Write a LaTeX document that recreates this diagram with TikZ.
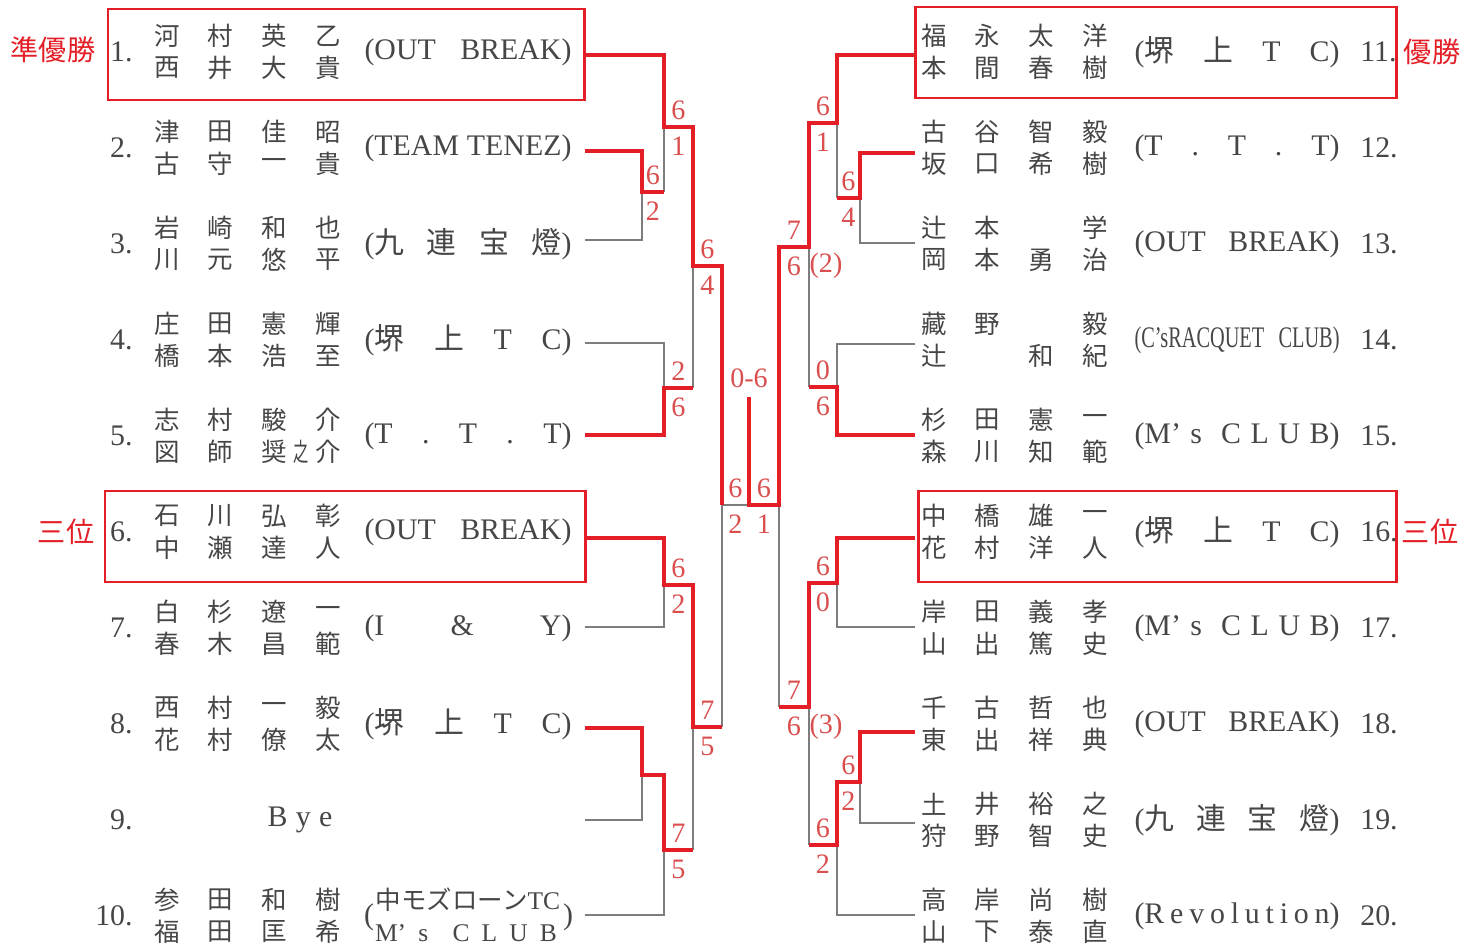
\documentclass[tikz,border=0pt]{standalone}
\usepackage{fontspec}
\usepackage{graphicx}
\setmainfont{Liberation Serif}
\newfontfamily\cjk{Noto Sans CJK JP}
\usetikzlibrary{positioning,calc}

\definecolor{winred}{RGB}{228,30,38}
\definecolor{losegray}{RGB}{125,125,125}
\definecolor{scorered}{RGB}{218,78,78}
\definecolor{textgray}{RGB}{70,70,70}
\newlength\px \setlength\px{0.02cm}
\newcommand\jp[1]{{\cjk #1}}

\tikzset{
  win/.style={draw=winred,line width=2.3pt},
  lose/.style={draw=losegray,line width=0.8pt},
  winbox/.style={draw=winred,line width=1.7pt},
  nm/.style={font=\cjk\fontsize{14.5}{15}\selectfont,text=textgray,inner sep=0pt},
  num/.style={font=\fontsize{17}{18}\selectfont,text=textgray,inner sep=0pt},
  tm/.style={font=\fontsize{17}{18}\selectfont,text=textgray,inner sep=0pt},
  tmsmall/.style={font=\fontsize{14.5}{15}\selectfont,text=textgray,inner sep=0pt},
  score/.style={font=\fontsize{16}{17}\selectfont,text=scorered,inner sep=0pt},
  award/.style={font=\cjk\fontsize{16}{17}\selectfont,text=winred,inner sep=0pt},
}

\newcommand\entryL[5]{%
  \node[num,anchor=east] (no#1) at (133,#2) {#1.};
  \foreach \c [count=\i] in {#3} \node[nm] (t#1-\i) at ({113.3+53.7*\i},{#2-16}) {\c};
  \foreach \c [count=\i] in {#4} \node[nm] (b#1-\i) at ({113.3+53.7*\i},{#2+16}) {\c};
  \node[tm] (tm#1) at (468,#2) {\makebox[207\px][s]{#5}};}
\newcommand\entryR[5]{%
  \node[num,anchor=west] (no#1) at (1360,#2) {#1.};
  \foreach \c [count=\i] in {#3} \node[nm] (t#1-\i) at ({880.3+53.7*\i},{#2-16}) {\c};
  \foreach \c [count=\i] in {#4} \node[nm] (b#1-\i) at ({880.3+53.7*\i},{#2+16}) {\c};
  \node[tm] (tm#1) at (1237,#2) {\makebox[205\px][s]{#5}};}
\newcommand\scores[3]{%
  \node[score] (#1t) at ($(#1s)!.5!(#1)+(0,-17)$) {#2};
  \node[score] (#1b) at ($(#1s)!.5!(#1)+(0,19)$) {#3};}

\begin{document}
\begin{tikzpicture}[x=0.02cm,y=-0.02cm]
\useasboundingbox (0,0) rectangle (1480,949);

% left entries
\entryL{1}{52}{河,村,英,乙}{西,井,大,貴}{(OUT\hfill BREAK)}
\entryL{2}{148}{津,田,佳,昭}{古,守,一,貴}{(TEAM\hfill TENEZ)}
\entryL{3}{244}{岩,崎,和,也}{川,元,悠,平}{(\jp{九}\hfill\jp{連}\hfill\jp{宝}\hfill\jp{燈})}
\entryL{4}{340}{庄,田,憲,輝}{橋,本,浩,至}{(\jp{堺}\hfill\jp{上}\hfill T\hfill C)}
\entryL{5}{436}{志,村,駿,介}{図,師,奨,介}{(T\hfill .\hfill T\hfill .\hfill T)}
\node[nm] (b5-x) at (301,452) {\scalebox{.6}[1]{之}};
\entryL{6}{532}{石,川,弘,彰}{中,瀬,達,人}{(OUT\hfill BREAK)}
\entryL{7}{628}{白,杉,遼,一}{春,木,昌,範}{(I\hfill\&\hfill Y)}
\entryL{8}{724}{西,村,一,毅}{花,村,僚,太}{(\jp{堺}\hfill\jp{上}\hfill T\hfill C)}
\node[num,anchor=east] (no9) at (133,820) {9.};
\node[tm] (bye) at (300,820) {\makebox[65\px][s]{B\hfill y\hfill e}};
\node[num,anchor=east] (no10) at (133,916) {10.};
\foreach \c [count=\i] in {参,田,和,樹} \node[nm] (t10-\i) at ({113.3+53.7*\i},900) {\c};
\foreach \c [count=\i] in {福,田,匡,希} \node[nm] (b10-\i) at ({113.3+53.7*\i},932) {\c};
\node[tmsmall] (tm10a) at (468,900) {\jp{中モズローン}TC};
\node[tmsmall] (tm10b) at (466,933) {\makebox[182\px][s]{M’\hfill s\hfill\hfill C\hfill L\hfill U\hfill B}};
\node[tm] (tm10l) at (369,917) {(};
\node[tm] (tm10r) at (568,917) {)};

% right entries
\entryR{11}{52}{福,永,太,洋}{本,間,春,樹}{(\jp{堺}\hfill\jp{上}\hfill T\hfill C)}
\entryR{12}{148}{古,谷,智,毅}{坂,口,希,樹}{(T\hfill .\hfill T\hfill .\hfill T)}
\entryR{13}{244}{辻,本,{},学}{岡,本,勇,治}{(OUT\hfill BREAK)}
\entryR{14}{340}{藏,野,{},毅}{辻,{},和,紀}{\scalebox{.68}[1]{(C’sRACQUET}\hfill\scalebox{.68}[1]{CLUB)}}
\entryR{15}{436}{杉,田,憲,一}{森,川,知,範}{(M’\hfill s\hfill\hfill C\hfill L\hfill U\hfill B)}
\entryR{16}{532}{中,橋,雄,一}{花,村,洋,人}{(\jp{堺}\hfill\jp{上}\hfill T\hfill C)}
\entryR{17}{628}{岸,田,義,孝}{山,出,篤,史}{(M’\hfill s\hfill\hfill C\hfill L\hfill U\hfill B)}
\entryR{18}{724}{千,古,哲,也}{東,出,祥,典}{(OUT\hfill BREAK)}
\entryR{19}{820}{土,井,裕,之}{狩,野,智,史}{(\jp{九}\hfill\jp{連}\hfill\jp{宝}\hfill\jp{燈})}
\entryR{20}{916}{高,岸,尚,樹}{山,下,泰,直}{(R\hfill e\hfill v\hfill o\hfill l\hfill u\hfill t\hfill i\hfill o\hfill n)}

% boxes and awards
\draw[winbox] (108,9) rectangle (584,100);
\draw[winbox] (105,491) rectangle (585,582);
\draw[winbox] (915,7) rectangle (1396,98);
\draw[winbox] (918,491) rectangle (1396,582);
\node[award] (jun) at (53,50) {準優勝};
\node[award] (sanL) at (66,532) {三位};
\node[award] (yu) at (1432,52) {優勝};
\node[award] (sanR) at (1430,532) {三位};

% bracket points
\foreach \n/\x/\y in {L1/585/55,L2/585/151,L3/585/240,L4/585/343,L5/585/435,
    L6/585/538,L7/585/627,L8/585/728,L9/585/820,L10/585/915,
    R11/915/55,R12/915/153,R13/915/243,R14/915/344,R15/915/435,
    R16/915/538,R17/915/627,R18/915/732,R19/915/823,R20/915/915,
    m23s/642/192,m23/664/192,m1s/664/127,m1/693/127,m45s/664/388,m45/693/388,
    mAs/693/266,mA/722/266,m67s/664/585,m67/693/585,m89s/642/775,m89/664/775,
    m810s/664/850,m810/693/850,mBs/693/727,mB/722/727,sLs/722/505,sL/749/505,
    n1213s/860/198,n1213/837/198,n11s/837/123,n11/809/123,n1415s/837/387,n1415/809/387,
    nAs/809/247,nA/779/247,n1617s/837/583,n1617/809/583,n1819s/860/782,n1819/837/782,
    n1820s/837/845,n1820/809/845,nBs/809/707,nB/779/707,sRs/779/505,sR/749/505,F/749/397}
  \coordinate (\n) at (\x,\y);

\draw[lose] (L3) -| (m23s);
\draw[lose] (m23) |- (m1s);
\draw[lose] (L4) -| (m45s);
\draw[lose] (m45) |- (mAs);
\draw[lose] (mB) |- (sLs) -- (sL);
\draw[lose] (L7) -| (m67s);
\draw[lose] (L9) -| (m89s);
\draw[lose] (L10) -| (m810s);
\draw[lose] (m810) |- (mBs);
\draw[lose] (R13) -| (n1213s);
\draw[lose] (n1213) |- (n11s);
\draw[lose] (R14) -| (n1415s);
\draw[lose] (n1415) |- (nAs);
\draw[lose] (R17) -| (n1617s);
\draw[lose] (n1820) |- (nBs);
\draw[lose] (nB) |- (sRs);
\draw[lose] (R19) -| (n1819s);
\draw[lose] (R20) -| (n1820s);

\draw[win] (L2) -| (m23s) -- (m23);
\draw[win] (L1) -| (m1s) -- (m1) |- (mAs) -- (mA) |- (sLs);
\draw[win] (L5) -| (m45s) -- (m45);
\draw[win] (L6) -| (m67s) -- (m67) |- (mBs) -- (mB);
\draw[win] (L8) -| (m89s) -- (m89) |- (m810s) -- (m810);
\draw[win] (R12) -| (n1213s) -- (n1213);
\draw[win] (R11) -| (n11s) -- (n11) |- (nAs) -- (nA) |- (sRs) -- (sR) -- (F);
\draw[win] (R15) -| (n1415s) -- (n1415);
\draw[win] (R16) -| (n1617s) -- (n1617) |- (nBs) -- (nB);
\draw[win] (R18) -| (n1819s) -- (n1819) |- (n1820s) -- (n1820);

% scores
\scores{m23}{6}{2}
\scores{m1}{6}{1}
\scores{m45}{2}{6}
\scores{mA}{6}{4}
\scores{m67}{6}{2}
\scores{mB}{7}{5}
\scores{m810}{7}{5}
\scores{sL}{6}{2}
\scores{sR}{6}{1}
\scores{n1213}{6}{4}
\scores{n11}{6}{1}
\scores{n1415}{0}{6}
\scores{nA}{7}{6}
\scores{n1617}{6}{0}
\scores{nB}{7}{6}
\scores{n1819}{6}{2}
\scores{n1820}{6}{2}
\node[score] (fin) at ($(F)+(0,-19)$) {0-6};
\node[score] (nA2) at ($(nA)+(47,19)$) {(2)};
\node[score] (nB2) at ($(nB)+(47,20)$) {(3)};
\end{tikzpicture}
\end{document}
